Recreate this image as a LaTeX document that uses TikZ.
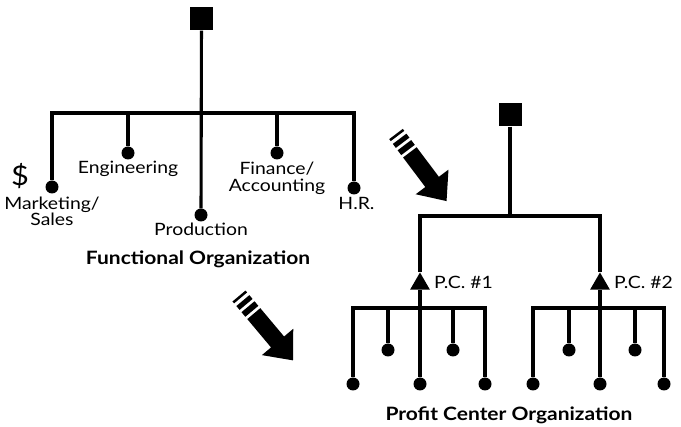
\documentclass[tikz,border=0pt]{standalone}
\usepackage{fontspec}
\setmainfont{Lato}[FakeStretch=1.14]
\usetikzlibrary{positioning,shapes.geometric}

\tikzset{fatarrow/.pic={
	\fill (0,-8.5) rectangle (2.5,8.5);
	\fill (6,-8.5) rectangle (11,8.5);
	\fill (14,-8.5) rectangle (20,8.5);
	\fill (23,-8.5) -- (60,-8.5) -- (60,-20.5) -- (84,0) -- (60,20.5) -- (60,8.5) -- (23,8.5) -- cycle;
}}

\begin{document}
\begin{tikzpicture}[x=1pt,y=-1pt]
		\tikzstyle{chief}=[fill=black,minimum size=23pt,inner sep=0pt]
		\tikzstyle{unit}=[circle,fill=black,minimum size=13pt,inner sep=0pt]
		\tikzstyle{center}=[regular polygon,regular polygon sides=3,fill=black,minimum size=23pt,inner sep=0pt]
		\tikzstyle{wire}=[line width=3.1pt]
		\tikzstyle{lbl}=[inner sep=0pt,align=center,font=\fontsize{17}{16.5}\selectfont]
		\tikzstyle{title}=[inner sep=0pt,font=\fontsize{18.4}{18}\selectfont\bfseries]

		\useasboundingbox (0,0) rectangle (681,427);

		% functional organization
		\node [chief] (top1) at (201.5,19) {};
		\coordinate (bus1) at (201,113);
		\node [unit] (mkt) at (52,187) {};
		\node [unit] (eng) at (128,153) {};
		\node [unit] (prod) at (201,215) {};
		\node [unit] (fin) at (277,153) {};
		\node [unit] (hr) at (354,188) {};

		\draw [wire] (top1) -- (prod);
		\draw [wire] (mkt) |- (bus1) -| (hr);
		\draw [wire] (eng) -- (eng |- bus1);
		\draw [wire] (fin) -- (fin |- bus1);

		\node [lbl] (mktlbl) [below=3pt of mkt] {Marketing/\\Sales};
		\node [lbl] (englbl) [below=1.5pt of eng] {Engineering};
		\node [lbl] (prodlbl) [below=1.5pt of prod] {Production};
		\node [lbl] (finlbl) [below=2.5pt of fin] {Finance/\\Accounting};
		\node [lbl] (hrlbl) [below=2.5pt of hr, xshift=2.5pt] {H.R.};
		\node [lbl, font=\fontsize{27}{27}\selectfont] (dollar) at (20,176) {\$};
		\node [title] (func) at (198,259) {Functional Organization};

		% profit center organization
		\node [chief] (top2) at (510,115) {};
		\coordinate (bus2) at (510,216);

		\begin{scope}
			\node [center] (pc1) at (420,284) {};
			\coordinate (sub1) at (420,308);
			\node [unit] (pc1a) at (353,384) {};
			\node [unit] (pc1b) at (388,350) {};
			\node [unit] (pc1c) at (420,384) {};
			\node [unit] (pc1d) at (453,350) {};
			\node [unit] (pc1e) at (485,384) {};

			\draw [wire] (pc1) -- (pc1c);
			\draw [wire] (pc1a) |- (sub1) -| (pc1e);
			\draw [wire] (pc1b) -- (pc1b |- sub1);
			\draw [wire] (pc1d) -- (pc1d |- sub1);
			\node [lbl] (pc1lbl) [right=7pt of pc1, yshift=2pt] {P.C. \#1};
		\end{scope}

		\begin{scope}[xshift=180pt]
			\node [center] (pc2) at (420,284) {};
			\coordinate (sub2) at (420,308);
			\node [unit] (pc2a) at (353,384) {};
			\node [unit] (pc2b) at (389,350) {};
			\node [unit] (pc2c) at (420,384) {};
			\node [unit] (pc2d) at (455,350) {};
			\node [unit] (pc2e) at (484,384) {};

			\draw [wire] (pc2) -- (pc2c);
			\draw [wire] (pc2a) |- (sub2) -| (pc2e);
			\draw [wire] (pc2b) -- (pc2b |- sub2);
			\draw [wire] (pc2d) -- (pc2d |- sub2);
			\node [lbl] (pc2lbl) [right=7pt of pc2, yshift=2pt] {P.C. \#2};
		\end{scope}

		\draw [wire] (top2) -- (bus2);
		\draw [wire] (pc1) |- (bus2) -| (pc2);
		\node [title] (profit) at (509,415) {Profit Center Organization};

		% shift arrows
		\pic [rotate=-53] at (396,134) {fatarrow};
		\pic [rotate=-50] at (239,296) {fatarrow};
\end{tikzpicture}
\end{document}
